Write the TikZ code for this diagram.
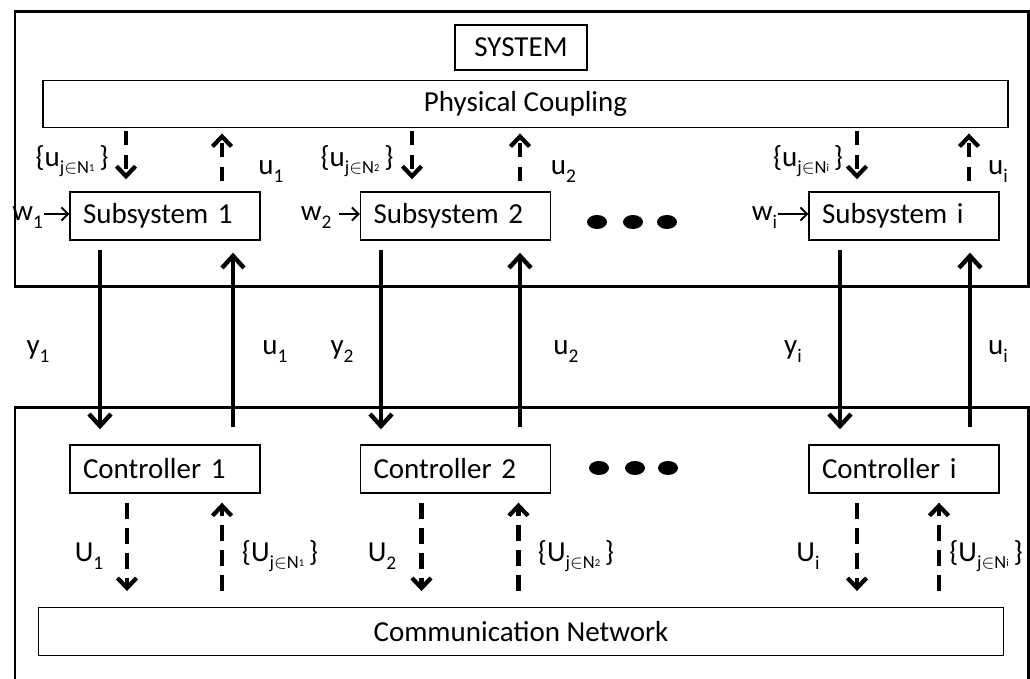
\documentclass[tikz,border=0pt]{standalone}
\usepackage{fontspec}
\setmainfont{Carlito}
\usepackage{tikz}
\usetikzlibrary{arrows.meta}
\usetikzlibrary{positioning,calc}
\tikzset{
  every node/.style={font=\fontsize{16.5}{19.8}\selectfont},
  blk/.style={draw, line width=0.8pt, fill=white, text width=3.28cm, inner xsep=0.26cm,
    inner ysep=0pt, align=left, minimum height=0.96cm},
  bar/.style={draw, line width=0.8pt, fill=white, minimum width=19.3cm, minimum height=0.95cm},
  frame/.style={line width=1.7pt},
  lbl/.style={inner sep=0pt, anchor=base},
  sig/.style={line width=2.5pt, -{Straight Barb[length=2.4mm, width=4.4mm]}},
  dsh/.style={line width=2.4pt, dash pattern=on 0.28cm off 0.2cm,
    -{Straight Barb[length=2mm, width=3.8mm]}},
  dshlong/.style={dsh, dash pattern=on 0.32cm off 0.18cm},
  win/.style={line width=1.1pt, -{Straight Barb[length=1.3mm, width=2.6mm]}}
}
% lowered index and neighbour set
\newcommand{\lo}[1]{\raisebox{-4pt}{\fontsize{11}{13}\selectfont #1}}
\newcommand{\nbr}[2]{\{#1\raisebox{-3.5pt}{\fontsize{10.5}{12}\selectfont j$\in$N\raisebox{1pt}{\fontsize{6}{7}\selectfont #2}}\,\}}

\begin{document}
\begin{tikzpicture}
  \useasboundingbox (0,0) rectangle (20.6,13.58);

  % Plant side
  \draw[frame] (0.3,7.84) rectangle (20.56,13.34);
  \node[draw, line width=0.8pt, minimum width=2.64cm, minimum height=0.9cm] (sys) at (10.42,12.63) {SYSTEM};
  \node[bar] (pc) at (10.51,11.5) {Physical Coupling};

  \node[blk] (sub1) at (3.3,9.26) {Subsystem 1};
  \node[blk] (sub2) at (9.11,9.26) {Subsystem 2};
  \node[blk] (subi) at (18.08,9.26) {Subsystem i};

  \fill (11.94,9.14) ellipse (0.2 and 0.14);
  \fill (12.66,9.14) ellipse (0.2 and 0.14);
  \fill (13.34,9.14) ellipse (0.2 and 0.14);

  % Disturbance inputs
  \node[lbl, anchor=base east] (w1) at ($(sub1.west)+(-0.52,-0.1)$) {w\lo{1}};
  \node[lbl, anchor=base east] (w2) at ($(sub2.west)+(-0.56,-0.1)$) {w\lo{2}};
  \node[lbl, anchor=base east] (wi) at ($(subi.west)+(-0.62,-0.1)$) {w\lo{i}};
  \draw[win] ($(w1.base east)+(0.02,0.14)$) -- ($(sub1.west)+(0,0.04)$);
  \draw[win] ($(w2.base east)+(0.14,0.14)$) -- ($(sub2.west)+(0,0.04)$);
  \draw[win] ($(wi.base east)+(0.02,0.14)$) -- ($(subi.west)+(0,0.04)$);

  % Coupling between subsystems
  \draw[dsh] ($(pc.south -| sub1)+(-0.78,-0.06)$) -- ($(sub1.north)+(-0.78,0.24)$);
  \draw[dsh] ($(sub1.north)+(1.14,0.2)$) -- ($(pc.south -| sub1)+(1.14,-0.1)$);
  \draw[dsh] ($(pc.south -| sub2)+(-0.87,-0.06)$) -- ($(sub2.north)+(-0.87,0.24)$);
  \draw[dsh] ($(sub2.north)+(1.29,0.2)$) -- ($(pc.south -| sub2)+(1.29,-0.1)$);
  \draw[dsh] ($(pc.south -| subi)+(-0.94,-0.06)$) -- ($(subi.north)+(-0.94,0.24)$);
  \draw[dsh] ($(subi.north)+(1.3,0.2)$) -- ($(pc.south -| subi)+(1.3,-0.1)$);

  \node[lbl] (cpl1) at (1.44,10.24) {\nbr{u}{1}};
  \node[lbl] (cpu1) at (5.42,10.08) {u\lo{1}};
  \node[lbl] (cpl2) at (7.14,10.24) {\nbr{u}{2}};
  \node[lbl] (cpu2) at (11.27,10.08) {u\lo{2}};
  \node[lbl] (cpli) at (16.16,10.24) {\nbr{u}{i}};
  \node[lbl] (cpui) at (19.96,10.08) {u\lo{i}};

  % Control side
  \draw[frame] (0.3,0) -- (0.3,5.42) -- (20.56,5.42) -- (20.56,0);
  \node[blk] (ctl1) at (3.3,4.2) {Controller 1};
  \node[blk] (ctl2) at (9.11,4.2) {Controller 2};
  \node[blk] (ctli) at (18.08,4.2) {Controller i};
  \node[bar] (cn) at (10.42,0.95) {Communication Network};

  \fill (11.98,4.22) ellipse (0.2 and 0.14);
  \fill (12.7,4.22) ellipse (0.2 and 0.14);
  \fill (13.36,4.22) ellipse (0.2 and 0.14);

  % Outputs and inputs
  \draw[sig] ($(sub1.south)+(-1.3,-0.18)$) -- ($(ctl1.north)+(-1.3,0.3)$);
  \draw[sig] ($(ctl1.north)+(1.36,0.34)$) -- ($(sub1.south)+(1.36,-0.24)$);
  \draw[sig] ($(sub2.south)+(-1.49,-0.18)$) -- ($(ctl2.north)+(-1.49,0.3)$);
  \draw[sig] ($(ctl2.north)+(1.29,0.34)$) -- ($(sub2.south)+(1.29,-0.24)$);
  \draw[sig] ($(subi.south)+(-1.28,-0.18)$) -- ($(ctli.north)+(-1.28,0.3)$);
  \draw[sig] ($(ctli.north)+(1.32,0.34)$) -- ($(subi.south)+(1.32,-0.24)$);

  \node[lbl] (ly1) at (0.76,6.48) {y\lo{1}};
  \node[lbl] (lu1) at (5.5,6.48) {u\lo{1}};
  \node[lbl] (ly2) at (6.84,6.48) {y\lo{2}};
  \node[lbl] (lu2) at (11.32,6.48) {u\lo{2}};
  \node[lbl] (lyi) at (15.86,6.48) {y\lo{i}};
  \node[lbl] (lui) at (19.96,6.48) {u\lo{i}};

  % Exchange over the network
  \draw[dshlong] ($(ctl1.south)+(-0.76,-0.18)$) -- ($(cn.north -| ctl1)+(-0.76,0.32)$);
  \draw[dshlong] ($(cn.north -| ctl1)+(1.14,0.32)$) -- ($(ctl1.south)+(1.14,-0.18)$);
  \draw[dshlong] ($(ctl2.south)+(-0.68,-0.18)$) -- ($(cn.north -| ctl2)+(-0.68,0.32)$);
  \draw[dshlong] ($(cn.north -| ctl2)+(1.26,0.32)$) -- ($(ctl2.south)+(1.26,-0.18)$);
  \draw[dshlong] ($(ctli.south)+(-0.94,-0.18)$) -- ($(cn.north -| ctli)+(-0.94,0.32)$);
  \draw[dshlong] ($(cn.north -| ctli)+(0.7,0.32)$) -- ($(ctli.south)+(0.7,-0.18)$);

  \node[lbl] (nU1) at (1.78,2.34) {U\lo{1}};
  \node[lbl] (nC1) at (5.6,2.34) {\nbr{U}{1}};
  \node[lbl] (nU2) at (7.64,2.34) {U\lo{2}};
  \node[lbl] (nC2) at (11.52,2.34) {\nbr{U}{2}};
  \node[lbl] (nUi) at (16.16,2.34) {U\lo{i}};
  \node[lbl] (nCi) at (19.72,2.34) {\nbr{U}{i}};
\end{tikzpicture}
\end{document}
